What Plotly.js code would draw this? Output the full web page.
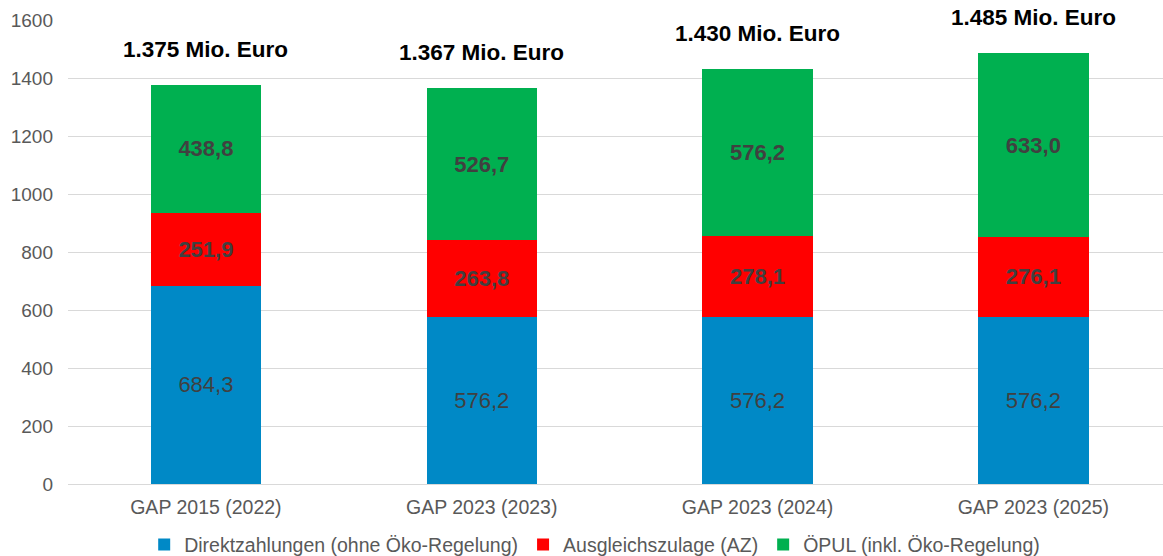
<!DOCTYPE html>
<html>
<head>
<meta charset="utf-8">
<script src="https://cdn.plot.ly/plotly-3.0.1.min.js"></script>
<style>html,body{margin:0;padding:0;background:#fff;}#chart{width:1163px;height:556px;}</style>
</head>
<body>
<div id="chart"></div>
<script>
const categories = ["GAP 2015 (2022)", "GAP 2023 (2023)", "GAP 2023 (2024)", "GAP 2023 (2025)"];
const direktzahlungen = [684.3, 576.2, 576.2, 576.2];
const ausgleichszulage = [251.9, 263.8, 278.1, 276.1];
const oepul = [438.8, 526.7, 576.2, 633.0];
const totalLabels = ["1.375 Mio. Euro", "1.367 Mio. Euro", "1.430 Mio. Euro", "1.485 Mio. Euro"];
const seriesNames = ["Direktzahlungen (ohne Öko-Regelung)", "Ausgleichszulage (AZ)", "ÖPUL (inkl. Öko-Regelung)"];

const FONT = "Liberation Sans, Arial, sans-serif";
const fmt = v => v.toFixed(1).replace('.', ',');

function barTrace(name, vals, color, bold) {
  return {
    type: 'bar', name: name, x: categories, y: vals,
    marker: {color: color},
    text: vals.map(v => bold ? '<b>' + fmt(v) + '</b>' : fmt(v)),
    textposition: 'inside', insidetextanchor: 'middle', textangle: 0,
    textfont: {family: FONT, size: 22, color: '#404040'},
    constraintext: 'none',
    hoverinfo: 'skip'
  };
}

const data = [
  barTrace(seriesNames[0], direktzahlungen, '#0089C6', false),
  barTrace(seriesNames[1], ausgleichszulage, '#FF0000', true),
  barTrace(seriesNames[2], oepul, '#00B050', true)
];

const totals = categories.map((c, i) => direktzahlungen[i] + ausgleichszulage[i] + oepul[i]);
const annotations = categories.map((c, i) => ({
  x: c, y: totals[i], xref: 'x', yref: 'y',
  text: '<b>' + totalLabels[i] + '</b>', showarrow: false,
  yanchor: 'bottom', yshift: 21,
  font: {family: FONT, size: 22.5, color: '#000000'}
}));

const layout = {
  width: 1163, height: 556,
  margin: {l: 68, r: 0, t: 20, b: 72, autoexpand: false},
  barmode: 'stack', bargap: 0.6,
  paper_bgcolor: '#ffffff', plot_bgcolor: '#ffffff',
  font: {family: FONT, size: 19.5, color: '#595959'},
  xaxis: {
    type: 'category', range: [-0.5, 3.47],
    showgrid: false, showline: true, linecolor: '#D9D9D9', linewidth: 1,
    ticks: '', tickfont: {family: FONT, size: 19.5, color: '#595959'},
    ticklabelstandoff: 6,
    fixedrange: true
  },
  yaxis: {
    range: [0, 1600], dtick: 200, tick0: 0,
    showgrid: true, gridcolor: '#D9D9D9', gridwidth: 1,
    zeroline: false, showline: false, ticks: '',
    tickfont: {family: FONT, size: 19, color: '#595959'},
    ticklabelstandoff: 14,
    fixedrange: true
  },
  showlegend: true,
  legend: {
    orientation: 'h', x: 0.481, xanchor: 'center', y: -0.131, yanchor: 'middle',
    font: {family: FONT, size: 19.5, color: '#595959'},
    traceorder: 'normal', itemwidth: 30
  },
  annotations: annotations
};

Plotly.newPlot('chart', data, layout, {displayModeBar: false, staticPlot: true});
</script>
</body>
</html>
